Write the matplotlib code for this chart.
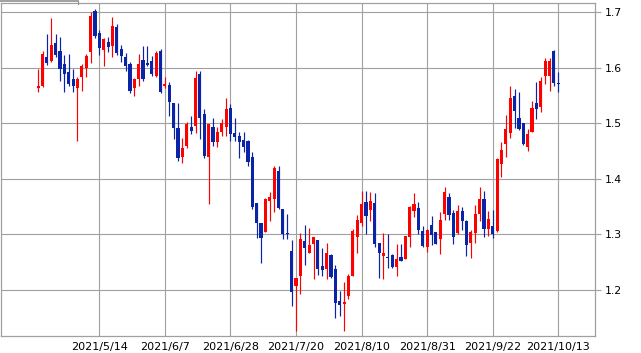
import matplotlib
matplotlib.use("Agg")
import matplotlib.pyplot as plt
from matplotlib.lines import Line2D
import numpy as np
import pandas as pd

# ---- data ----
holidays = ["2021-05-31", "2021-07-05", "2021-09-06"]
dates = pd.bdate_range("2021-04-26", "2021-10-13", freq="C", holidays=holidays)

opens = [1.563, 1.568, 1.620, 1.613, 1.645, 1.631, 1.606, 1.593, 1.580, 1.564,
         1.584, 1.600, 1.628, 1.702, 1.663, 1.632, 1.647, 1.640, 1.674, 1.634,
         1.620, 1.607, 1.563, 1.579, 1.614, 1.608, 1.613, 1.585, 1.630, 1.568,
         1.569, 1.537, 1.492, 1.440, 1.460, 1.494, 1.495, 1.588, 1.516, 1.439,
         1.494, 1.467, 1.484, 1.493, 1.528, 1.483, 1.478, 1.470, 1.469, 1.440,
         1.357, 1.321, 1.305, 1.360, 1.364, 1.415, 1.346, 1.303, 1.270, 1.207,
         1.225, 1.288, 1.267, 1.282, 1.290, 1.243, 1.238, 1.263, 1.237, 1.181,
         1.175, 1.189, 1.225, 1.296, 1.321, 1.358, 1.344, 1.357, 1.284, 1.262,
         1.260, 1.263, 1.242, 1.259, 1.256, 1.295, 1.343, 1.348, 1.306, 1.277,
         1.317, 1.305, 1.291, 1.336, 1.368, 1.339, 1.303, 1.343, 1.324, 1.285,
         1.303, 1.337, 1.363, 1.310, 1.315, 1.306, 1.427, 1.462, 1.483, 1.550,
         1.510, 1.501, 1.457, 1.485, 1.537, 1.530, 1.585, 1.585, 1.630, 1.572]
highs = [1.598, 1.631, 1.661, 1.690, 1.660, 1.656, 1.623, 1.625, 1.598, 1.584,
         1.607, 1.625, 1.701, 1.706, 1.668, 1.653, 1.656, 1.692, 1.679, 1.641,
         1.627, 1.611, 1.582, 1.625, 1.640, 1.640, 1.622, 1.631, 1.633, 1.583,
         1.575, 1.537, 1.536, 1.473, 1.503, 1.514, 1.595, 1.595, 1.525, 1.499,
         1.510, 1.494, 1.507, 1.545, 1.534, 1.510, 1.485, 1.485, 1.470, 1.449,
         1.357, 1.321, 1.365, 1.377, 1.423, 1.424, 1.346, 1.337, 1.290, 1.222,
         1.303, 1.317, 1.312, 1.295, 1.290, 1.275, 1.285, 1.265, 1.245, 1.199,
         1.214, 1.229, 1.310, 1.335, 1.379, 1.379, 1.377, 1.375, 1.284, 1.303,
         1.301, 1.265, 1.283, 1.283, 1.298, 1.352, 1.375, 1.359, 1.315, 1.310,
         1.334, 1.305, 1.341, 1.386, 1.375, 1.344, 1.353, 1.350, 1.326, 1.308,
         1.353, 1.386, 1.379, 1.343, 1.344, 1.438, 1.466, 1.515, 1.568, 1.561,
         1.557, 1.501, 1.490, 1.541, 1.574, 1.584, 1.617, 1.617, 1.632, 1.593]
lows = [1.556, 1.566, 1.605, 1.611, 1.619, 1.577, 1.556, 1.567, 1.556, 1.468,
        1.558, 1.584, 1.608, 1.653, 1.623, 1.604, 1.629, 1.620, 1.623, 1.611,
        1.595, 1.554, 1.550, 1.568, 1.576, 1.604, 1.586, 1.583, 1.554, 1.563,
        1.513, 1.471, 1.433, 1.428, 1.455, 1.480, 1.482, 1.471, 1.437, 1.354,
        1.460, 1.458, 1.477, 1.477, 1.469, 1.469, 1.437, 1.449, 1.424, 1.346,
        1.294, 1.249, 1.305, 1.325, 1.341, 1.346, 1.291, 1.291, 1.172, 1.127,
        1.193, 1.245, 1.266, 1.220, 1.227, 1.225, 1.220, 1.222, 1.149, 1.153,
        1.126, 1.184, 1.225, 1.267, 1.316, 1.301, 1.325, 1.278, 1.222, 1.219,
        1.239, 1.239, 1.225, 1.252, 1.256, 1.277, 1.332, 1.301, 1.277, 1.269,
        1.281, 1.282, 1.265, 1.326, 1.326, 1.283, 1.301, 1.308, 1.261, 1.258,
        1.285, 1.324, 1.295, 1.297, 1.293, 1.305, 1.403, 1.439, 1.474, 1.492,
        1.488, 1.461, 1.450, 1.485, 1.507, 1.521, 1.570, 1.558, 1.567, 1.557]
closes = [1.568, 1.625, 1.608, 1.641, 1.623, 1.598, 1.589, 1.570, 1.568, 1.579,
          1.604, 1.622, 1.693, 1.658, 1.635, 1.652, 1.638, 1.675, 1.627, 1.622,
          1.603, 1.559, 1.580, 1.606, 1.579, 1.605, 1.589, 1.626, 1.556, 1.570,
          1.539, 1.491, 1.437, 1.455, 1.498, 1.487, 1.581, 1.510, 1.442, 1.498,
          1.466, 1.485, 1.500, 1.525, 1.480, 1.475, 1.467, 1.458, 1.430, 1.350,
          1.321, 1.294, 1.363, 1.368, 1.419, 1.348, 1.300, 1.300, 1.196, 1.222,
          1.292, 1.276, 1.281, 1.295, 1.238, 1.236, 1.266, 1.224, 1.176, 1.173,
          1.179, 1.225, 1.306, 1.326, 1.355, 1.334, 1.361, 1.282, 1.267, 1.266,
          1.257, 1.242, 1.256, 1.253, 1.297, 1.350, 1.355, 1.308, 1.280, 1.308,
          1.299, 1.283, 1.326, 1.377, 1.335, 1.296, 1.343, 1.324, 1.281, 1.305,
          1.337, 1.364, 1.310, 1.328, 1.301, 1.435, 1.452, 1.490, 1.546, 1.522,
          1.490, 1.463, 1.481, 1.528, 1.526, 1.577, 1.613, 1.613, 1.572, 1.570]

tick_labels = ["2021/5/14", "2021/6/7", "2021/6/28", "2021/7/20",
               "2021/8/10", "2021/8/31", "2021/9/22", "2021/10/13"]
y_ticks = [1.2, 1.3, 1.4, 1.5, 1.6, 1.7]

# ---- plot ----
UP = "#FF0000"
DOWN = "#0A24A8"
GRID = "#A0A0A0"

fig = plt.figure(figsize=(6.41, 3.53), dpi=100)
ax = fig.add_axes([1 / 641, 17 / 353, 594 / 641, 333.5 / 353])

o = np.array(opens); h = np.array(highs); l = np.array(lows); c = np.array(closes)
x = np.arange(len(dates))
colors = np.where(c >= o, UP, DOWN)

ax.vlines(x, l, h, colors=colors, linewidth=0.85, zorder=3)
bottom = np.minimum(o, c)
height = np.maximum(np.abs(c - o), 0.003)
ax.bar(x, height, bottom=bottom, width=0.72, color=colors, linewidth=0, zorder=4)

# ticks
label_dates = [pd.Timestamp(s.replace("/", "-")) for s in tick_labels]
tick_pos = [dates.get_loc(d) for d in label_dates]
ax.set_xticks(tick_pos)
ax.set_xticklabels(tick_labels, fontsize=8)
ax.set_yticks(y_ticks)
ax.set_yticklabels([f"{v:.1f}" for v in y_ticks], fontsize=7.8)

ax.set_xlim(-8.5, 127.4)
ax.set_ylim(1.1172, 1.7176)

ax.yaxis.tick_right()
ax.tick_params(axis="y", direction="out", length=4, width=0.8, color=GRID, pad=3)
ax.tick_params(axis="x", length=0, pad=4)

ax.grid(True, color=GRID, linewidth=0.8, zorder=0)
ax.set_axisbelow(True)
for s in ax.spines.values():
    s.set_color(GRID)
    s.set_linewidth(0.9)

# small tab line at the very top-left
fig.add_artist(Line2D([0, 78 / 641], [1 - 0.8 / 353, 1 - 0.8 / 353],
                      color="#909090", linewidth=1.2))
fig.add_artist(Line2D([78 / 641, 78 / 641], [1 - 0.5 / 353, 1 - 4 / 353],
                      color="#909090", linewidth=0.8))

fig.savefig("out.png", dpi=100)
